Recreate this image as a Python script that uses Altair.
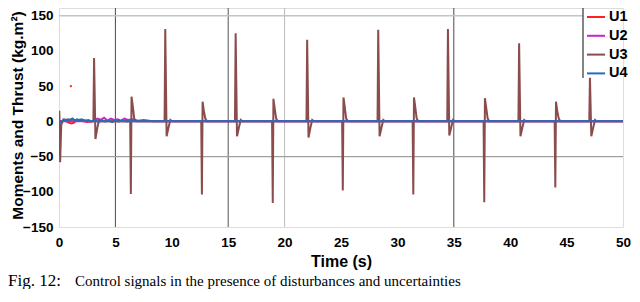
import altair as alt
import pandas as pd

# ---- data ----
series = ["U1", "U2", "U3", "U4"]
colors = ["#ff2020", "#cc22cc", "#8b4c4c", "#1f6fc5"]

# U3: periodic spikes (time, positive extreme, negative extreme)
spike_t = [3.11, 6.37, 9.42, 12.67, 15.66, 18.95, 22.0, 25.16, 28.3, 31.41, 34.48, 37.7, 40.79, 44.0, 47.07]
spike_hi = [90, 35, 131, 28, 125, 32, 116, 34, 130, 34, 131, 33, 111, 28, 62]
spike_lo = [-25, -103, -21, -104, -21, -116, -23, -98, -21, -104, -20, -115, -21, -94, -21]
# shape of an "up" spike and of a "down" spike (time offsets)
up_dt = [-0.06, 0.0, 0.12, 0.30, 0.45, 0.60]
down_dt = [-0.06, 0.0, 0.06, 0.16, 0.30, 0.45]

# U3 start-up transient
u3_start_t = [0.0, 0.03, 0.1, 0.2, 0.4, 0.8, 1.2, 1.6, 2.0, 2.4, 2.8]
u3_start_v = [0, 15, -58, -5, 3, 2, 3, 1, 2, 1, 0]

u1_t = [0.0, 0.5, 0.9, 1.1, 1.3, 1.6, 2.0, 2.5, 3.0, 3.5, 50.0]
u1_v = [0, 1, -2, -3, -2, 2, 1, -1, 0, 0, 0]
u1_dot_t = [1.05]
u1_dot_v = [50]

u2_t = [0.0, 3.0, 3.4, 3.7, 4.0, 4.3, 4.6, 4.9, 5.2, 5.5, 5.8, 6.1, 6.5, 7.0, 7.5, 8.0, 8.3, 50.0]
u2_v = [0, 0, 4, 2, 5, 1, 4, 2, 3, 1, 4, 2, 3, 1, 2, 1, 0, 0]

u4_t = [0.0, 0.2, 0.4, 0.6, 0.8, 1.0, 1.2, 1.4, 1.6, 1.8, 2.0, 2.3, 2.6, 2.9, 3.2, 3.5, 3.8,
        4.1, 4.4, 4.7, 5.0, 5.3, 5.6, 6.0, 6.5, 7.0, 50.0]
u4_v = [-3, -1, 2, 1, 3, 2, 4, 1, 3, 2, 3, 1, 2, 0, 2, -1, 1, 0, 1, -1, 1, 0, 1, 0, 0.5, 0, 0]

vgrid_t = [5, 15, 20, 35]
vgrid_c = ["#4a4a4a", "#555555", "#bbbbbb", "#4a4a4a"]
top_grid_v = [150]
mid_grid_v = [-50]

y_ticks = [-150, -100, -50, 0, 50, 100, 150]
x_ticks = [0, 5, 10, 15, 20, 25, 30, 35, 40, 45, 50]

caption_fig = "Fig. 12:"
caption_text = "Control signals in the presence of disturbances and uncertainties"

# ---- build long table ----
rows = []
for t, v in zip(u1_t, u1_v):
    rows.append(("U1", t, v))
for t, v in zip(u2_t, u2_v):
    rows.append(("U2", t, v))
for t, v in zip(u3_start_t, u3_start_v):
    rows.append(("U3", t, v))
for t, hi, lo in zip(spike_t, spike_hi, spike_lo):
    if hi > -lo:
        vals = [0, hi, lo, -8, 2, 0]
        dts = up_dt
    else:
        vals = [0, lo, hi, hi - 12, 4, 0]
        dts = down_dt
    for dt, v in zip(dts, vals):
        rows.append(("U3", t + dt, v))
rows.append(("U3", 50.0, 0))
for t, v in zip(u4_t, u4_v):
    rows.append(("U4", t, v))
df = pd.DataFrame(rows, columns=["series", "t", "v"])
df["order"] = range(len(df))

dots = pd.DataFrame({"t": u1_dot_t, "v": u1_dot_v})
vg = pd.DataFrame({"t": vgrid_t, "c": vgrid_c})
tg = pd.DataFrame({"v": top_grid_v})
mg = pd.DataFrame({"v": mid_grid_v})

xs = alt.Scale(domain=[0, 50], nice=False, zero=False)
ys = alt.Scale(domain=[-150, 161], nice=False, zero=False)

font = "Liberation Sans"

x_axis = alt.Axis(values=x_ticks, title="Time (s)", grid=False, domain=False, ticks=False,
                  labelOverlap=False, labelFlush=False,
                  labelPadding=8, labelFontSize=13.5, labelFontWeight="bold", labelFont=font,
                  labelColor="black", titleFontSize=16, titleFontWeight="bold", titleFont=font,
                  titleColor="black", titleBaseline="alphabetic", titleY=39)
y_axis = alt.Axis(values=y_ticks, title="Moments and Thrust (kg.m²)", grid=False, domain=False,
                  ticks=False, labelOverlap=False, labelFlush=False,
                  labelPadding=6, labelFontSize=13.5, labelFontWeight="bold",
                  labelFont=font, labelColor="black", titleFontSize=15.5, titleFontWeight="bold",
                  titleFont=font, titleColor="black", titleBaseline="alphabetic",
                  titleX=-37, titleY=107, titleAlign="center")

vrules = alt.Chart(vg).mark_rule(strokeWidth=1).encode(
    x=alt.X("t:Q", scale=xs, axis=x_axis),
    color=alt.Color("c:N", scale=None),
)
mid_rule = alt.Chart(mg).mark_rule(strokeWidth=1.3, color="#a0a0a0").encode(
    y=alt.Y("v:Q", scale=ys, axis=y_axis),
)
top_rule = alt.Chart(tg).mark_rule(strokeWidth=1.5, color="#c4c4c4").encode(
    y=alt.Y("v:Q", scale=ys, axis=y_axis),
    x=alt.value(0), x2=alt.value(524),
)

lines = alt.Chart(df).mark_line(strokeWidth=2, clip=True).encode(
    x=alt.X("t:Q", scale=xs, axis=x_axis),
    y=alt.Y("v:Q", scale=ys, axis=y_axis),
    color=alt.Color("series:N", scale=alt.Scale(domain=series, range=colors),
                    legend=alt.Legend(title=None, orient="none", legendX=525, legendY=-3,
                                      symbolType="stroke", symbolSize=324, symbolStrokeWidth=2,
                                      labelFontSize=14.5, labelFontWeight="bold", labelFont=font,
                                      labelColor="black", padding=2,
                                      rowPadding=1.8, labelOffset=3)),
    order="order:Q",
)

dot = alt.Chart(dots).mark_square(size=4, color="#ff2020", opacity=1).encode(
    x=alt.X("t:Q", scale=xs, axis=x_axis), y=alt.Y("v:Q", scale=ys, axis=y_axis)
)

legend_border = alt.Chart(tg).mark_rule(color="#333333", strokeWidth=1.2).encode(
    x=alt.value(524), y=alt.value(-8), y2=alt.value(70)
)

cap1 = alt.Chart(tg).mark_text(text=caption_fig, font="Liberation Serif", fontSize=17,
                               align="left", baseline="alphabetic", color="black").encode(
    x=alt.value(-51), y=alt.value(278))
cap2 = alt.Chart(tg).mark_text(text=caption_text, font="Liberation Serif", fontSize=15, align="left",
                               baseline="alphabetic", color="black").encode(
    x=alt.value(16), y=alt.value(278))

chart = alt.layer(vrules, mid_rule, top_rule, lines, dot, legend_border, cap1, cap2).properties(
    width=564, height=219,
    autosize=alt.AutoSizeParams(type="none"),
    padding={"left": 51, "top": 0, "right": 9, "bottom": 62},
).configure_view(stroke=None).configure(background="white")

chart.save("out.html", embed_options={"renderer": "svg", "actions": False})
